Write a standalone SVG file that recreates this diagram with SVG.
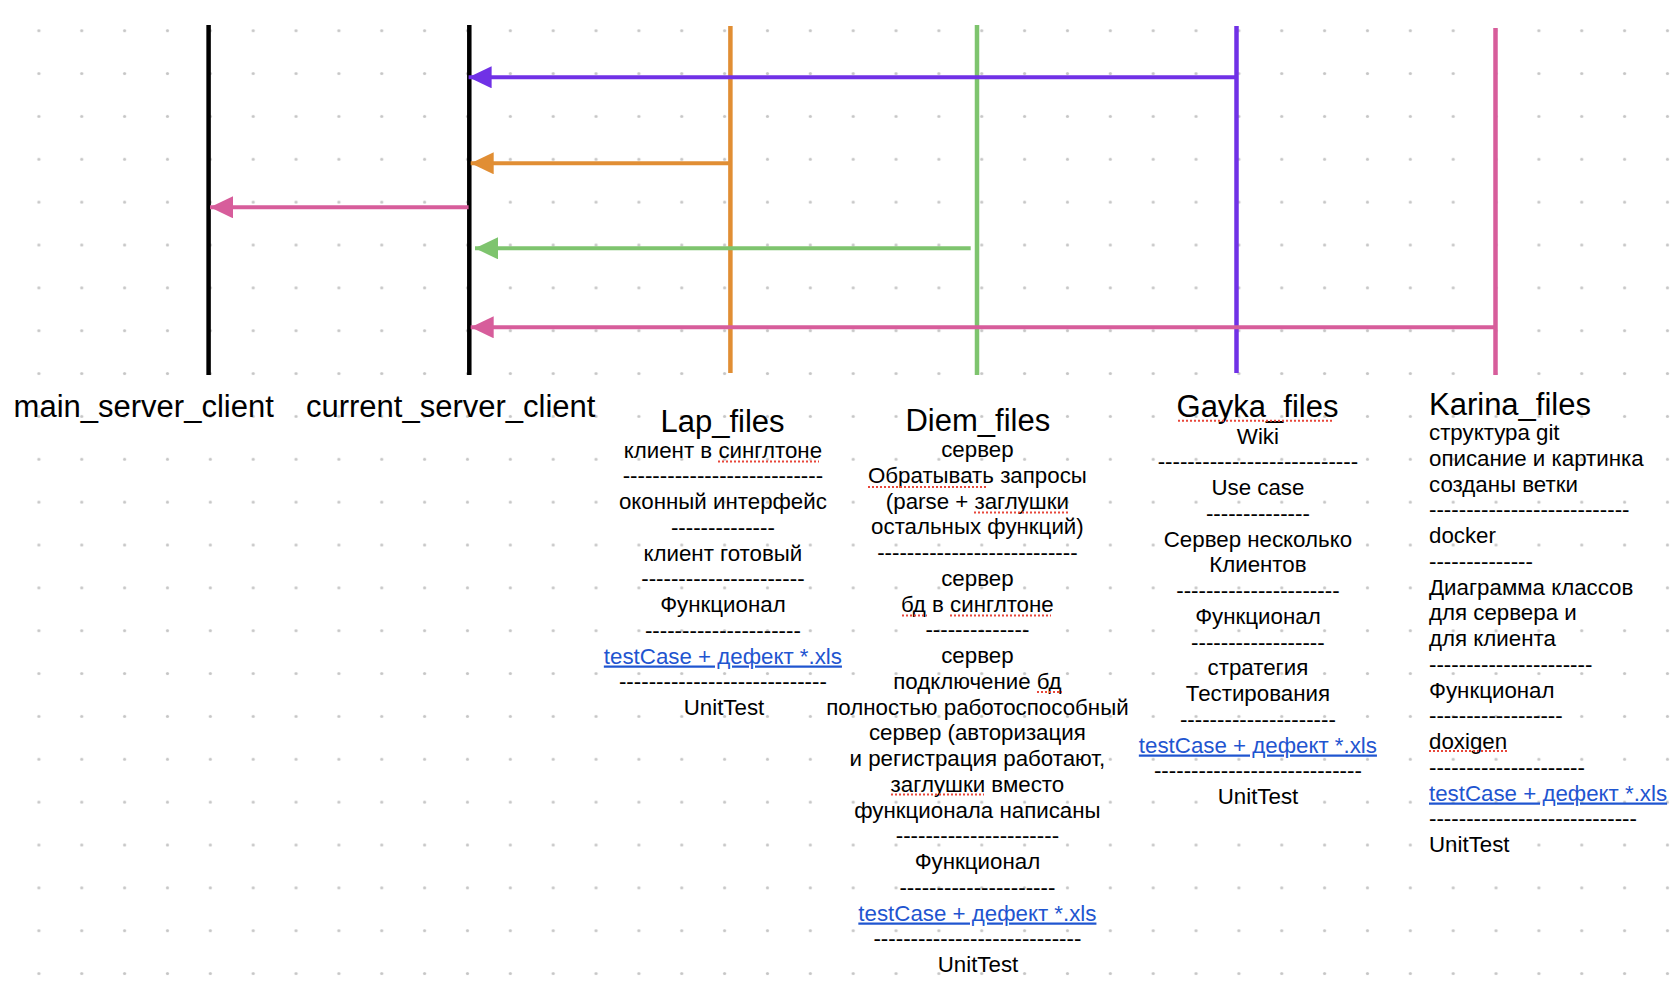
<svg xmlns="http://www.w3.org/2000/svg" width="1680" height="988" viewBox="0 0 1680 988">
<style>
text{font-family:"Liberation Sans",Arial,Helvetica,sans-serif;fill:#000}
.h{font-size:31px}
.b{font-size:22.3px}
.c{text-anchor:middle}
.lnk{fill:#1F55D0;text-decoration:underline}
.life{stroke-width:4.5;fill:none}
.arr{stroke-width:4;fill:none}
.sp{stroke:#E8473A;stroke-width:2;stroke-dasharray:2 2;fill:none}
</style>
<defs>
<pattern id="dots" patternUnits="userSpaceOnUse" x="17.47" y="9.27" width="42.857" height="42.857">
<circle cx="21.43" cy="21.43" r="1.6" fill="#C6C6C6"/>
</pattern>
<marker id="aP" markerUnits="userSpaceOnUse" markerWidth="24" markerHeight="22" refX="23" refY="11" orient="auto"><path d="M0,0 L23,11 L0,22 z" fill="#7031E6"/></marker>
<marker id="aO" markerUnits="userSpaceOnUse" markerWidth="24" markerHeight="22" refX="23" refY="11" orient="auto"><path d="M0,0 L23,11 L0,22 z" fill="#E18E34"/></marker>
<marker id="aG" markerUnits="userSpaceOnUse" markerWidth="24" markerHeight="22" refX="23" refY="11" orient="auto"><path d="M0,0 L23,11 L0,22 z" fill="#7EC46E"/></marker>
<marker id="aK" markerUnits="userSpaceOnUse" markerWidth="24" markerHeight="22" refX="23" refY="11" orient="auto"><path d="M0,0 L23,11 L0,22 z" fill="#D75D9B"/></marker>
</defs>
<rect width="1680" height="988" fill="#FFFFFF"/>
<rect width="1680" height="988" fill="url(#dots)"/>

<g id="main_server_client">
<line class="life" x1="208.6" y1="25" x2="208.6" y2="375" stroke="#000"/>
<text class="h c" x="143.7" y="416.7">main_server_client</text>
</g>

<g id="current_server_client">
<line class="life" x1="469.3" y1="25" x2="469.3" y2="375" stroke="#000"/>
<text class="h c" x="450.7" y="416.7">current_server_client</text>
</g>

<g id="Lap_files">
<line class="life" x1="730.4" y1="26" x2="730.4" y2="373" stroke="#E18E34"/>
<text class="h c" x="722.5" y="431.5">Lap_files</text>
<text class="b c" x="726" y="457.5">
<tspan x="726" dy="0">клиент в синглтоне</tspan>
<tspan x="726" dy="25.75">---------------------------</tspan>
<tspan x="726" dy="25.75">оконный интерфейс</tspan>
<tspan x="726" dy="25.75">--------------</tspan>
<tspan x="726" dy="25.75">клиент готовый</tspan>
<tspan x="726" dy="25.75">----------------------</tspan>
<tspan x="726" dy="25.75">Функционал</tspan>
<tspan x="726" dy="25.75">---------------------</tspan>
<tspan x="726" dy="25.75" class="lnk">testCase + дефект *.xls</tspan>
<tspan x="726" dy="25.75">----------------------------</tspan>
<tspan x="724" dy="25.75">UnitTest</tspan>
</text>
<line class="sp" x1="718" y1="461.5" x2="819" y2="461.5"/>
</g>

<g id="Diem_files">
<line class="life" x1="977" y1="25" x2="977" y2="375" stroke="#7EC46E"/>
<text class="h c" x="977.8" y="430.5">Diem_files</text>
<text class="b c" x="980.5" y="457">
<tspan x="980.5" dy="0">сервер</tspan>
<tspan x="980.5" dy="25.75">Обратывать запросы</tspan>
<tspan x="980.5" dy="25.75">(parse + заглушки</tspan>
<tspan x="980.5" dy="25.75">остальных функций)</tspan>
<tspan x="980.5" dy="25.75">---------------------------</tspan>
<tspan x="980.5" dy="25.75">сервер</tspan>
<tspan x="980.5" dy="25.75">бд в синглтоне</tspan>
<tspan x="980.5" dy="25.75">--------------</tspan>
<tspan x="980.5" dy="25.75">сервер</tspan>
<tspan x="980.5" dy="25.75">подключение бд</tspan>
<tspan x="980.5" dy="25.75">полностью работоспособный</tspan>
<tspan x="980.5" dy="25.75">сервер (авторизация</tspan>
<tspan x="980.5" dy="25.75">и регистрация работают,</tspan>
<tspan x="980.5" dy="25.75">заглушки вместо</tspan>
<tspan x="980.5" dy="25.75">функционала написаны</tspan>
<tspan x="980.5" dy="25.75">----------------------</tspan>
<tspan x="980.5" dy="25.75">Функционал</tspan>
<tspan x="980.5" dy="25.75">---------------------</tspan>
<tspan x="980.5" dy="25.75" class="lnk">testCase + дефект *.xls</tspan>
<tspan x="980.5" dy="25.75">----------------------------</tspan>
<tspan x="978" dy="25.75">UnitTest</tspan>
</text>
<line class="sp" x1="868" y1="487" x2="988" y2="487"/>
<line class="sp" x1="974" y1="512.5" x2="1069" y2="512.5"/>
<line class="sp" x1="902" y1="615.5" x2="927" y2="615.5"/>
<line class="sp" x1="950" y1="615.5" x2="1051" y2="615.5"/>
<line class="sp" x1="1037" y1="692" x2="1062" y2="692"/>
<line class="sp" x1="891" y1="794.5" x2="984" y2="794.5"/>
</g>

<g id="Gayka_files">
<line class="life" x1="1236.5" y1="26" x2="1236.5" y2="373" stroke="#7031E6"/>
<text class="h c" x="1257.5" y="416.5">Gayka_files</text>
<line class="sp" x1="1178" y1="420.8" x2="1334" y2="420.8"/>
<text class="b c" x="1261" y="443.5">
<tspan x="1261" dy="0">Wiki</tspan>
<tspan x="1261" dy="25.75">---------------------------</tspan>
<tspan x="1261" dy="25.75">Use case</tspan>
<tspan x="1261" dy="25.75">--------------</tspan>
<tspan x="1261" dy="25.75">Сервер несколько</tspan>
<tspan x="1261" dy="25.75">Клиентов</tspan>
<tspan x="1261" dy="25.75">----------------------</tspan>
<tspan x="1261" dy="25.75">Функционал</tspan>
<tspan x="1261" dy="25.75">------------------</tspan>
<tspan x="1261" dy="25.75">стратегия</tspan>
<tspan x="1261" dy="25.75">Тестирования</tspan>
<tspan x="1261" dy="25.75">---------------------</tspan>
<tspan x="1261" dy="25.75" class="lnk">testCase + дефект *.xls</tspan>
<tspan x="1261" dy="25.75">----------------------------</tspan>
<tspan x="1258" dy="25.75">UnitTest</tspan>
</text>
</g>

<g id="Karina_files">
<line class="life" x1="1495.5" y1="28" x2="1495.5" y2="375" stroke="#D75D9B"/>
<text class="h" x="1429" y="414.5">Karina_files</text>
<text class="b" x="1429" y="440">
<tspan x="1429" dy="0">структура git</tspan>
<tspan x="1429" dy="25.75">описание и картинка</tspan>
<tspan x="1429" dy="25.75">созданы ветки</tspan>
<tspan x="1429" dy="25.75">---------------------------</tspan>
<tspan x="1429" dy="25.75">docker</tspan>
<tspan x="1429" dy="25.75">--------------</tspan>
<tspan x="1429" dy="25.75">Диаграмма классов</tspan>
<tspan x="1429" dy="25.75">для сервера и</tspan>
<tspan x="1429" dy="25.75">для клиента</tspan>
<tspan x="1429" dy="25.75">----------------------</tspan>
<tspan x="1429" dy="25.75">Функционал</tspan>
<tspan x="1429" dy="25.75">------------------</tspan>
<tspan x="1429" dy="25.75">doxigen</tspan>
<tspan x="1429" dy="25.75">---------------------</tspan>
<tspan x="1429" dy="25.75" class="lnk">testCase + дефект *.xls</tspan>
<tspan x="1429" dy="25.75">----------------------------</tspan>
<tspan x="1429" dy="25.75">UnitTest</tspan>
</text>
<line class="sp" x1="1429" y1="751" x2="1508" y2="751"/>
</g>

<g id="connectors">
<line class="arr" x1="1236.5" y1="77.3" x2="468.6" y2="77.3" stroke="#7031E6" marker-end="url(#aP)"/>
<line class="arr" x1="730.4" y1="163.3" x2="470.7" y2="163.3" stroke="#E18E34" marker-end="url(#aO)"/>
<line class="arr" x1="468.6" y1="207.3" x2="210" y2="207.3" stroke="#D75D9B" marker-end="url(#aK)"/>
<line class="arr" x1="970.7" y1="248.3" x2="475" y2="248.3" stroke="#7EC46E" marker-end="url(#aG)"/>
<line class="arr" x1="1495.5" y1="327.3" x2="470.7" y2="327.3" stroke="#D75D9B" marker-end="url(#aK)"/>
</g>
</svg>
